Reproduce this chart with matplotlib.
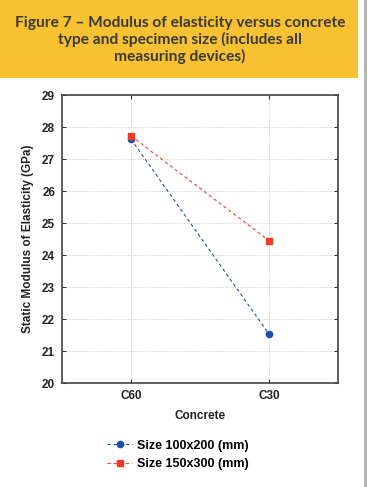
import matplotlib
matplotlib.use("Agg")
import matplotlib.pyplot as plt
from matplotlib.patches import Rectangle
from matplotlib.lines import Line2D

concrete = ["C60", "C30"]
size_100x200 = [27.62, 21.53]
size_150x300 = [27.72, 24.45]
labels = ["Size 100x200 (mm)", "Size 150x300 (mm)"]
title = "Figure 7 – Modulus of elasticity versus concrete\ntype and specimen size (includes all\nmeasuring devices)"

plt.rcParams["font.family"] = ["Liberation Sans", "DejaVu Sans"]

fig = plt.figure(figsize=(3.74, 4.87), dpi=100)
fig.patch.set_facecolor("white")

# en-tete jaune
fig.add_artist(Rectangle((0, 1 - 78 / 487), 358 / 374, 78 / 487, transform=fig.transFigure,
                         facecolor="#f8c131", edgecolor="none"))
fig.text(180 / 374, 1 - 40 / 487, title, ha="center", va="center", fontsize=11.2,
         color="#3a3a3a", linespacing=1.15, family="Lato", weight="bold")
# trait gris a droite
fig.add_artist(Line2D([364.5 / 374, 364.5 / 374], [0, 1], transform=fig.transFigure,
                      color="#b0b0b0", lw=2))

ax = fig.add_axes([62 / 374, 104 / 487, 276 / 374, 288 / 487])
x = list(range(len(concrete)))
l1, = ax.plot(x, size_100x200, ls=(0, (3, 2.5)), color="#2a4fa8", lw=0.8,
              marker="o", ms=4.5, mfc="#1f4ea8", mec="#1f4ea8")
l2, = ax.plot(x, size_150x300, ls=(0, (3, 2.5)), color="#e8453a", lw=0.8,
              marker="s", ms=4.5, mfc="#f03a25", mec="#f03a25")

ax.set_xlim(-0.5, 1.5)
ax.set_ylim(20, 29)
ax.set_xticks(x)
ax.set_xticklabels(concrete)
ax.set_yticks(range(20, 30))
ax.grid(True, ls=(0, (1, 1.5)), color="#c8c8c8", lw=0.7)
ax.tick_params(direction="in", length=3, width=0.8, colors="#333333", labelsize=8.5,
               right=True, top=True, pad=5)
for t in ax.get_xticklabels() + ax.get_yticklabels():
    t.set_fontweight("bold")
    t.set_color("#222222")
for s in ax.spines.values():
    s.set_color("#444444")
    s.set_linewidth(1.2)

ax.set_xlabel("Concrete", fontsize=8.5, fontweight="bold", color="#222222", labelpad=6)
ax.set_ylabel("Static Modulus of Elasticity (GPa)", fontsize=8.5, fontweight="bold",
              color="#222222", labelpad=6)

fig.legend([l1, l2], labels, loc="center", bbox_to_anchor=(178 / 374, 1 - 455 / 487),
           frameon=False, prop={"weight": "bold", "size": 9},
           handlelength=2.0, labelspacing=0.55, handletextpad=0.4)

fig.savefig("out.png", dpi=100)
